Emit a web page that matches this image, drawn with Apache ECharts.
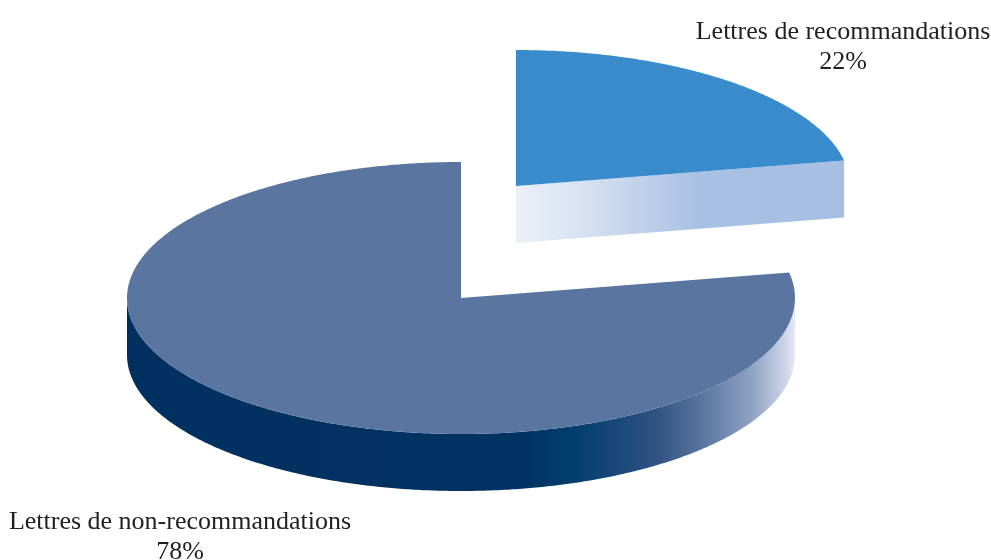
<!DOCTYPE html>
<html>
<head>
<meta charset="utf-8">
<title>Lettres de recommandations</title>
<script src="https://cdn.jsdelivr.net/npm/echarts@6/dist/echarts.min.js"></script>
<style>
  html, body { margin: 0; padding: 0; background: #ffffff; }
  #chart { width: 991px; height: 560px; }
</style>
</head>
<body>
<div id="chart"></div>
<script>
// Share of letters, in percent
const categories = ['Lettres de recommandations', 'Lettres de non-recommandations'];
const values = [22, 78];

// Geometry of the tilted disc (screen pixels)
const disc = { cx: 461, cy: 298, rx: 334, ry: 136, depth: 57, startAngle: 90 };
// Per-slice pull-out offset and label anchor
const sliceOffsets = [[55, -112], [0, 0]];
const labelAnchors = [[843, 47], [180, 537]];

// Colours for each slice: top face, outer wall gradient, cut face gradient
const sliceStyles = [
  {
    top: '#3a8bcb',
    wall: [[0, '#a6bfe3'], [1, '#a6bfe3']],
    cut: [[0, '#eaf0f9'], [0.2, '#d8e2f2'], [0.4, '#bdcfea'], [0.56, '#a8c0e4'], [1, '#a6bfe3']]
  },
  {
    top: '#5a76a0',
    wall: [[0, '#00305f'], [0.59, '#003262'], [0.67, '#023e6e'], [0.79, '#2f5282'],
           [0.86, '#5a74a0'], [0.935, '#8ea2c4'], [0.985, '#ccd4e6'], [1, '#e6e9f3']],
    cut: [[0, '#2f5282'], [1, '#5a76a0']]
  }
];

const total = values.reduce((a, b) => a + b, 0);

function pt(t, dx, dy, down) {
  const r = t * Math.PI / 180;
  return [disc.cx + dx + disc.rx * Math.cos(r),
          disc.cy + dy - disc.ry * Math.sin(r) + (down ? disc.depth : 0)];
}

function grad(stops) {
  return new echarts.graphic.LinearGradient(0, 0, 1, 0,
    stops.map(s => ({ offset: s[0], color: s[1] })));
}

function renderSlice(params, api) {
  const i = params.dataIndex;
  const v = api.value(0);
  let before = 0;
  for (let k = 0; k < i; k++) before += values[k];
  // slices run clockwise from the top
  const t0 = disc.startAngle - before / total * 360;
  const t1 = t0 - v / total * 360;
  const [dx, dy] = sliceOffsets[i];
  const st = sliceStyles[i];
  const children = [];
  const apex = [disc.cx + dx, disc.cy + dy];
  const apexDown = [apex[0], apex[1] + disc.depth];

  // outer wall: the part of the rim that faces the viewer (lower half)
  const step = 0.5;
  let seg = [];
  const segs = [];
  for (let t = t1; t <= t0 + 1e-9; t += step) {
    const tt = Math.min(t, t0);
    if (Math.sin(tt * Math.PI / 180) <= 0) {
      seg.push(tt);
    } else if (seg.length) { segs.push(seg); seg = []; }
  }
  if (seg.length) segs.push(seg);
  segs.forEach(s => {
    if (s.length < 2) return;
    const pts = s.map(t => pt(t, dx, dy, false))
      .concat(s.slice().reverse().map(t => pt(t, dx, dy, true)));
    children.push({ type: 'polygon', shape: { points: pts },
      style: { fill: grad(st.wall) } });
  });

  // radial cut faces seen from the front
  const faces = [];
  if (Math.cos(t1 * Math.PI / 180) > 1e-6) faces.push(t1);
  if (Math.cos(t0 * Math.PI / 180) < -1e-6) faces.push(t0);
  faces.forEach(t => {
    const rim = pt(t, dx, dy, false);
    const rimDown = pt(t, dx, dy, true);
    children.push({ type: 'polygon',
      shape: { points: [apex, rim, rimDown, apexDown] },
      style: { fill: grad(st.cut) } });
  });

  // top face
  const topPts = [apex];
  for (let t = t0; t >= t1 - 1e-9; t -= step) topPts.push(pt(Math.max(t, t1), dx, dy, false));
  topPts.push(pt(t1, dx, dy, false));
  children.push({ type: 'polygon', shape: { points: topPts },
    style: { fill: st.top } });

  // category name and share
  children.push({ type: 'text',
    style: {
      text: categories[i] + '\n' + v + '%',
      x: labelAnchors[i][0], y: labelAnchors[i][1],
      align: 'center', verticalAlign: 'middle',
      fontFamily: '"Liberation Serif", "DejaVu Serif", serif',
      fontSize: 26, lineHeight: 30, fill: '#231f20'
    } });

  return { type: 'group', children };
}

const chart = echarts.init(document.getElementById('chart'), null, { renderer: 'canvas' });
chart.setOption({
  animation: false,
  backgroundColor: '#ffffff',
  series: [{
    type: 'custom',
    coordinateSystem: 'none',
    renderItem: renderSlice,
    data: values.map((v, i) => ({ name: categories[i], value: [v] }))
  }]
});
</script>
</body>
</html>
